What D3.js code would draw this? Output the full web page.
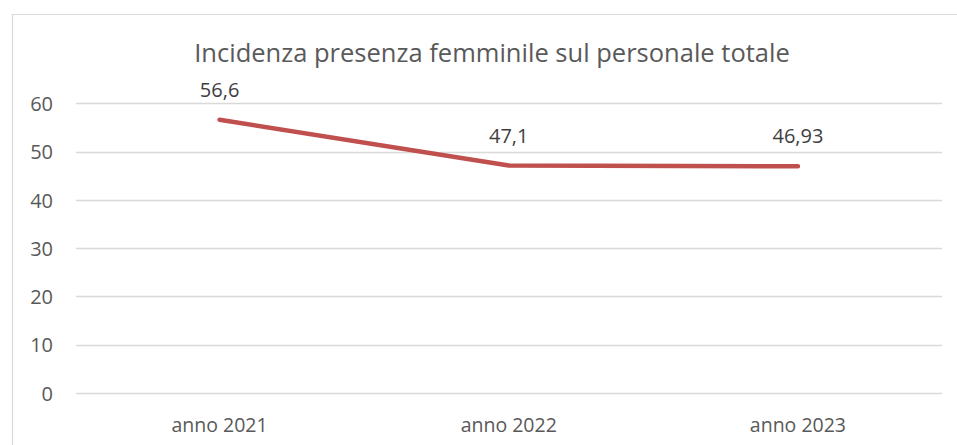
<!DOCTYPE html>
<html><head><meta charset="utf-8">
<script src="https://cdn.jsdelivr.net/npm/d3@7"></script>
<style>html,body{margin:0;padding:0;background:#fff;}svg{display:block;}</style>
</head><body>
<script>
const categories = ["anno 2021", "anno 2022", "anno 2023"];
const values = [56.6, 47.1, 46.93];
const valueLabels = ["56,6", "47,1", "46,93"];
const yTicks = [0, 10, 20, 30, 40, 50, 60];
const title = "Incidenza presenza femminile sul personale totale";

const W = 957, H = 445;
const font = "'Open Sans', sans-serif";
const textColor = "#595959";
const svg = d3.select("body").append("svg").attr("width", W).attr("height", H);

// chart frame
svg.append("path").attr("d", `M12.5,${H+2}V14.5H${W+2}`).attr("fill", "none").attr("stroke", "#d9d9d9").attr("stroke-width", 1.2);

const x = d3.scaleBand().domain(categories).range([75, 942.5]);
const y = d3.scaleLinear().domain([0, 60]).range([392.8, 103.3]);

// gridlines
svg.append("g").selectAll("line").data(yTicks).join("line")
  .attr("x1", 76).attr("x2", 942)
  .attr("y1", d => Math.round(y(d)) + 0.5).attr("y2", d => Math.round(y(d)) + 0.5)
  .attr("stroke", "#d9d9d9").attr("stroke-width", 1.3);

// y axis labels
const yAxis = d3.axisLeft(y).tickValues(yTicks).tickSize(0).tickPadding(0).tickFormat(d3.format("d"));
const ga = svg.append("g").attr("transform", "translate(53,0)").call(yAxis);
ga.select(".domain").remove();
ga.selectAll("text").attr("font-family", font).attr("font-size", 20).attr("fill", textColor).attr("dy", "0.36em");

// x axis labels
const xAxis = d3.axisBottom(x).tickSize(0).tickPadding(0);
const gx = svg.append("g").attr("transform", "translate(0,432)").call(xAxis);
gx.select(".domain").remove();
gx.selectAll("text").attr("font-family", font).attr("font-size", 19.5).attr("fill", textColor).attr("dy", 0);

// line
const pts = categories.map((c, i) => [x(c) + x.bandwidth() / 2, y(values[i])]);
svg.append("path").datum(pts)
  .attr("d", d3.line())
  .attr("fill", "none").attr("stroke", "#C0504D").attr("stroke-width", 4.5)
  .attr("stroke-linecap", "round").attr("stroke-linejoin", "round");

// data labels
svg.append("g").selectAll("text").data(pts).join("text")
  .attr("x", d => d[0]).attr("y", d => d[1] - 23)
  .attr("text-anchor", "middle")
  .attr("font-family", font).attr("font-size", 20).attr("fill", "#404040")
  .text((d, i) => valueLabels[i]);

// title
const t = svg.append("text").attr("x", 492).attr("y", 62).attr("text-anchor", "middle")
  .attr("font-family", font).attr("font-size", 25).attr("fill", textColor).text(title);
const w = t.node().getComputedTextLength();
t.attr("font-size", 25 * 596 / w);
</script>
</body></html>
